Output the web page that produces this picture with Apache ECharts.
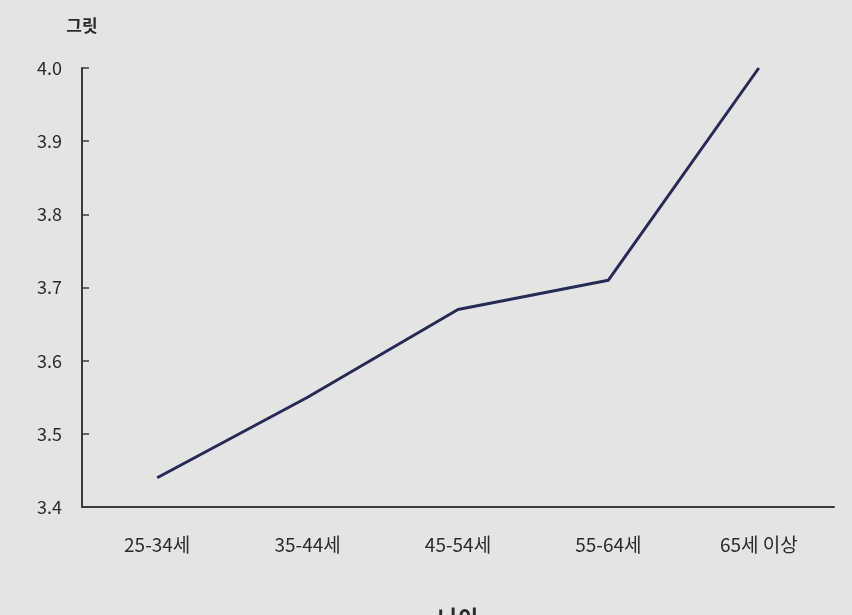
<!DOCTYPE html>
<html><head><meta charset="utf-8">
<script src="https://cdn.jsdelivr.net/npm/echarts@6/dist/echarts.min.js"></script>
<style>html,body{margin:0;padding:0;background:#e3e5e4;}#c{width:852px;height:615px;}</style>
</head><body><div id="c"></div>
<script>
const categories = ['25-34세', '35-44세', '45-54세', '55-64세', '65세 이상'];
const gritValues = [3.44, 3.55, 3.67, 3.71, 4.0];
const yTicks = { min: 3.4, max: 4.0, interval: 0.1 };

const chart = echarts.init(document.getElementById('c'));
const font = '"Noto Sans CJK KR", "Noto Sans", sans-serif';
chart.setOption({
  backgroundColor: '#e3e5e4',
  animation: false,
  grid: { left: 82, right: 18, top: 68, bottom: 108, outerBoundsMode: 'none', containLabel: false },
  xAxis: {
    type: 'category',
    data: categories,
    boundaryGap: true,
    name: '나이',
    nameLocation: 'middle',
    nameGap: 100,
    nameTextStyle: { fontFamily: font, fontSize: 22, fontWeight: 'bold', color: '#2b2b2b' },
    axisLine: { lineStyle: { color: '#3a3a3a', width: 2 } },
    axisTick: { alignWithLabel: true, inside: true, length: 8, lineStyle: { color: '#3a3a3a', width: 1.5 } },
    axisLabel: { fontFamily: font, fontSize: 19, color: '#2a2a2a', margin: 28 },
    splitLine: { show: false }
  },
  yAxis: {
    type: 'value',
    min: yTicks.min, max: yTicks.max, interval: yTicks.interval,
    name: '그릿',
    nameLocation: 'end',
    nameGap: 34,
    nameTextStyle: { fontFamily: font, fontSize: 17, fontWeight: 'bold', color: '#2b2b2b', align: 'center' },
    axisLine: { show: true, lineStyle: { color: '#3a3a3a', width: 2 } },
    axisTick: { show: true, inside: true, length: 7, lineStyle: { color: '#3a3a3a', width: 1.5 } },
    axisLabel: { fontFamily: font, fontSize: 18, color: '#2a2a2a', margin: 20,
      formatter: v => v.toFixed(1) },
    splitLine: { show: false }
  },
  series: [{
    type: 'line',
    data: gritValues,
    symbol: 'none',
    lineStyle: { color: '#272a55', width: 3 }
  }]
});
</script></body></html>
